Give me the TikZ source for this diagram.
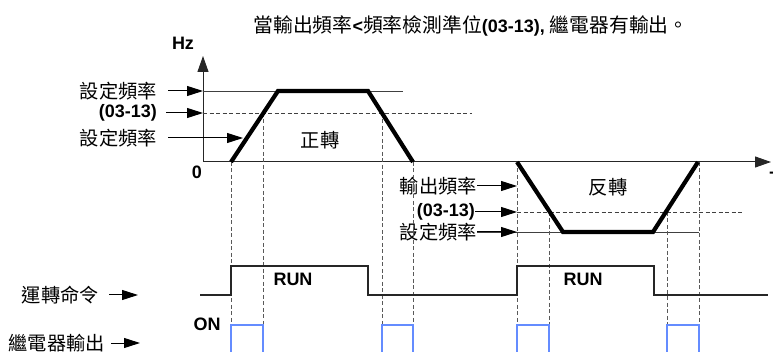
\documentclass[tikz,border=0pt]{standalone}
\usepackage{fontspec}
\setmainfont{Liberation Sans}
\newfontfamily\cjk{Noto Sans CJK TC}[Scale=1.1]
\usetikzlibrary{arrows.meta}
\definecolor{pulseblue}{RGB}{100,140,255}
\begin{document}
\begin{tikzpicture}[x=1pt,y=-1pt,
  font=\fontsize{18}{20}\selectfont,
  lbl/.style={inner sep=0pt},
  zh/.style={inner sep=0pt,font=\fontsize{17.5}{20}\selectfont\cjk},
  bf/.style={inner sep=0pt,font=\fontsize{18}{20}\selectfont\bfseries},
  arr/.style={draw=black,line width=1pt,-{Triangle[length=16pt,width=10pt]}},
  axisline/.style={draw=black!85,line width=1pt,-{Triangle[length=16pt,width=11pt]}},
  refline/.style={draw=black!75,line width=0.9pt},
  refdash/.style={draw=black!75,line width=0.9pt,dash pattern=on 4pt off 2.5pt},
  vdash/.style={draw=black!65,line width=0.9pt,dash pattern=on 4pt off 2.5pt},
  freq/.style={draw=black,line width=4.2pt,line join=miter},
  runline/.style={draw=black!85,line width=1.2pt},
  pulse/.style={draw=pulseblue,line width=1.4pt}]
\useasboundingbox (0,0) rectangle (773,352);

% ---------- title ----------
\node[lbl] (title) at (471,26) {{\cjk 當輸出頻率}\textbf{<}{\cjk 頻率檢測準位}\textbf{(03-13),} {\cjk 繼電器有輸出。}};

% ---------- axes ----------
\coordinate (O) at (203,162);
\coordinate (ytip) at (203,56);
\coordinate (xtip) at (771,162);
\draw[axisline] (O) -- (ytip);
\draw[axisline] (O) -- (xtip);
\node[bf] (hz) at (183,43) {Hz};
\node[bf] (zero) at (197,172) {0};
\node[bf,anchor=west] (tlab) at (769.5,178) {T};

% ---------- reference levels (forward) ----------
\coordinate (f1) at (203,91);   \coordinate (f1e) at (403,91);
\coordinate (f2) at (203,113);  \coordinate (f2e) at (472,113);
\coordinate (f3) at (243,138);
\draw[refline] (f1) -- (f1e);
\draw[refdash] (f2) -- (f2e);

\node[zh,anchor=east] (l1) at (157,91) {設定頻率};
\node[bf,anchor=east] (l2) at (157,113) {(03-13)};
\node[zh,anchor=east] (l3) at (157,138) {設定頻率};
\draw[arr] ([xshift=11pt]l1.east) -- (f1);
\draw[arr] ([xshift=9pt]l2.east) -- (f2);
\draw[arr] ([xshift=11pt]l3.east) -- (f3);

% ---------- reference levels (reverse) ----------
\coordinate (r1) at (517,186);
\coordinate (r2) at (517,212);  \coordinate (r2e) at (742,212);
\coordinate (r3) at (517,232);  \coordinate (r3e) at (699,232);
\draw[refdash] (r2) -- (r2e);
\node[zh,anchor=east] (m1) at (477,186) {輸出頻率};
\node[bf,anchor=east] (m2) at (475,212) {(03-13)};
\node[zh,anchor=east] (m3) at (477,232) {設定頻率};
\draw[arr] (m1.east) -- (r1);
\draw[arr] (m2.east) -- (r2);
\draw[refline] (m3.east) -- (r3e);
\draw[arr] (m3.east) -- (r3);

% ---------- dashed verticals ----------
\foreach \x/\y in {231/162,263/113,382/113,413/162,517/162,549/212,667/212,699/162}
  \draw[vdash] (\x,\y) -- (\x,352);

% ---------- output frequency ----------
\coordinate (a1) at (231,162); \coordinate (a2) at (278,91);
\coordinate (a3) at (368,91);  \coordinate (a4) at (413,162);
\draw[freq] (a1) -- (a2) -- (a3) -- (a4);
\coordinate (b1) at (517,162); \coordinate (b2) at (563,232);
\coordinate (b3) at (653,232); \coordinate (b4) at (698,162);
\draw[freq] (b1) -- (b2) -- (b3) -- (b4);
\node[zh] (fwd) at (320,140) {正轉};
\node[zh] (rev) at (608,187) {反轉};

% ---------- run command ----------
\node[zh,anchor=east] (runlab) at (99,295) {運轉命令};
\coordinate (runtip) at (138,295);
\draw[arr] ([xshift=10pt]runlab.east) -- (runtip);
\draw[runline] (200,295) -- (231,295) -- (231,266) -- (368,266) -- (368,295)
  -- (517,295) -- (517,266) -- (654,266) -- (654,295) -- (768,295);
\node[bf] (run1) at (293,279) {RUN};
\node[bf] (run2) at (583,279) {RUN};

% ---------- relay output ----------
\node[zh,anchor=east] (rlylab) at (105,343) {繼電器輸出};
\coordinate (rlytip) at (140,343);
\draw[arr] ([xshift=6pt]rlylab.east) -- (rlytip);
\node[bf] (on) at (207,324) {ON};
\foreach \l/\r in {231/263,382/413,517/549,667/699}
  \draw[pulse] (\l,353) -- (\l,325) -- (\r,325) -- (\r,353);
\end{tikzpicture}
\end{document}
